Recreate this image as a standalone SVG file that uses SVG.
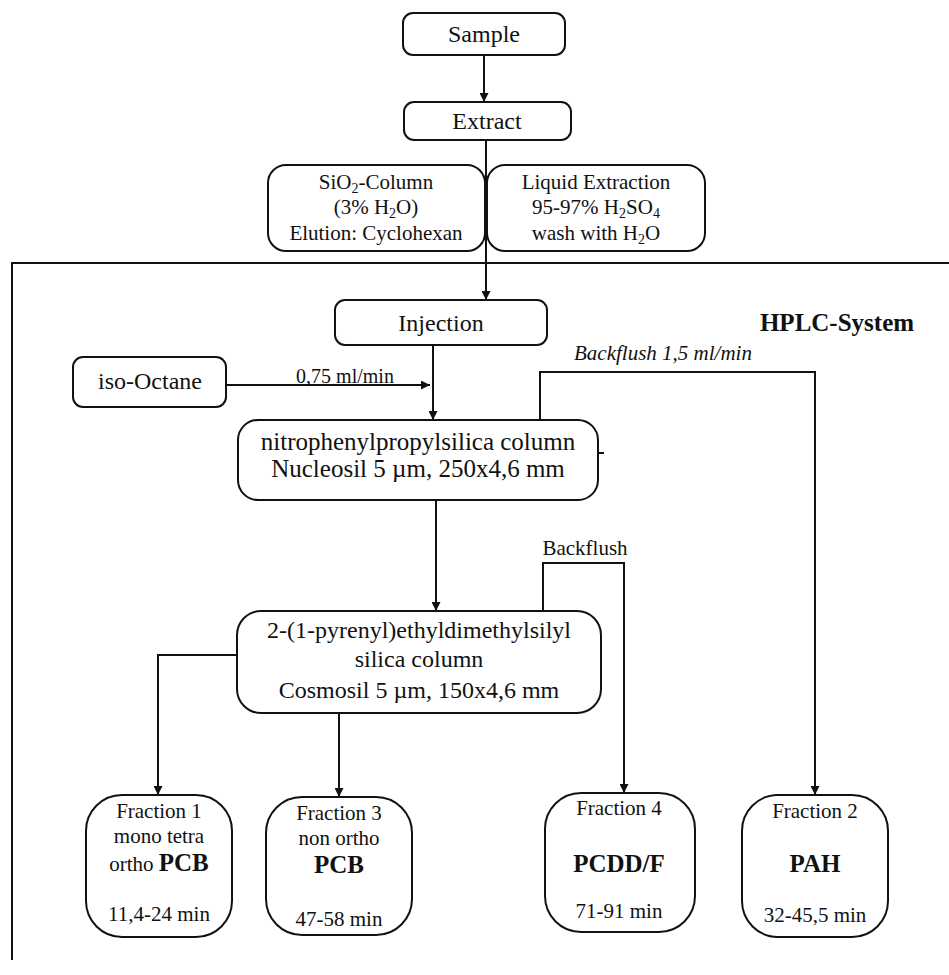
<svg xmlns="http://www.w3.org/2000/svg" width="949" height="975" viewBox="0 0 949 975">
<defs>
<marker id="ah" viewBox="0 0 10 10" refX="10" refY="5" markerWidth="9" markerHeight="9" markerUnits="userSpaceOnUse" orient="auto">
<path d="M0,0 L10,5 L0,10 z" fill="#111"/>
</marker>
<style>
text{font-family:"Liberation Serif","Times New Roman",serif;fill:#111;text-anchor:middle}
.box{fill:#fff;stroke:#111;stroke-width:2}
.ln{fill:none;stroke:#111;stroke-width:2}
.t24{font-size:24px}
.t25{font-size:25px}
.t21{font-size:21px}
.t20{font-size:20px}
.b25{font-size:25px;font-weight:bold}
.sub{font-size:14px}
</style>
</defs>
<rect width="949" height="975" fill="#fff"/>
<path class="ln" d="M949,263 H12 V960"/>
<g id="hplc-label"><text class="b25" x="837" y="331">HPLC-System</text></g>
<g id="connectors">
<path class="ln" d="M484,55 V102" marker-end="url(#ah)"/>
<path class="ln" d="M486,140 V300" marker-end="url(#ah)"/>
<path class="ln" d="M433,345 V420" marker-end="url(#ah)"/>
<path class="ln" d="M226,385 H430" marker-end="url(#ah)"/>
<path class="ln" d="M540,420 V372 H815 V795" marker-end="url(#ah)"/>
<path class="ln" d="M436,500 V611" marker-end="url(#ah)"/>
<path class="ln" d="M543,611 V563 H624 V793" marker-end="url(#ah)"/>
<path class="ln" d="M237,655 H158 V795" marker-end="url(#ah)"/>
<path class="ln" d="M339,713 V797" marker-end="url(#ah)"/>
<path class="ln" d="M598,453 H604"/>
<text class="t20" x="345" y="383">0,75 ml/min</text>
<text class="t21" x="663" y="360" font-style="italic">Backflush 1,5 ml/min</text>
<text class="t21" x="585" y="555">Backflush</text>
</g>
<g id="sample"><rect class="box" x="403" y="13" width="162" height="42" rx="10"/><text class="t24" x="484" y="42">Sample</text></g>
<g id="extract"><rect class="box" x="404" y="102" width="167" height="38" rx="10"/><text class="t24" x="487" y="129">Extract</text></g>
<g id="sio2"><rect class="box" x="268" y="165" width="217" height="86" rx="18"/>
<text class="t21" x="376" y="189">SiO<tspan class="sub" dy="4">2</tspan><tspan dy="-4">-Column</tspan></text>
<text class="t21" x="376" y="214">(3% H<tspan class="sub" dy="4">2</tspan><tspan dy="-4">O)</tspan></text>
<text class="t21" x="376" y="240">Elution: Cyclohexan</text></g>
<g id="liquid"><rect class="box" x="487" y="165" width="218" height="86" rx="18"/>
<text class="t21" x="596" y="189">Liquid Extraction</text>
<text class="t21" x="596" y="214">95-97% H<tspan class="sub" dy="4">2</tspan><tspan dy="-4">SO</tspan><tspan class="sub" dy="4">4</tspan></text>
<text class="t21" x="596" y="240">wash with H<tspan class="sub" dy="4">2</tspan><tspan dy="-4">O</tspan></text></g>
<g id="injection"><rect class="box" x="335" y="300" width="212" height="45" rx="10"/><text class="t24" x="441" y="331">Injection</text></g>
<g id="isooctane"><rect class="box" x="73" y="357" width="153" height="50" rx="10"/><text class="t24" x="150" y="389">iso-Octane</text></g>
<g id="nitro"><rect class="box" x="238" y="420" width="360" height="80" rx="20"/>
<text class="t25" x="418" y="450">nitrophenylpropylsilica column</text>
<text class="t25" x="418" y="477">Nucleosil 5 µm, 250x4,6 mm</text></g>
<g id="pyrenyl"><rect class="box" x="237" y="611" width="364" height="102" rx="24"/>
<text class="t24" x="419" y="638">2-(1-pyrenyl)ethyldimethylsilyl</text>
<text class="t24" x="419" y="667">silica column</text>
<text class="t24" x="419" y="698">Cosmosil 5 µm, 150x4,6 mm</text></g>
<g id="fraction1"><rect class="box" x="86" y="795" width="146" height="142" rx="36"/>
<text class="t21" x="159" y="818">Fraction 1</text>
<text class="t21" x="159" y="843">mono tetra</text>
<text class="t21" x="159" y="871">ortho <tspan class="b25">PCB</tspan></text>
<text class="t21" x="159" y="921">11,4-24 min</text></g>
<g id="fraction3"><rect class="box" x="266" y="797" width="146" height="138" rx="36"/>
<text class="t21" x="339" y="820">Fraction 3</text>
<text class="t21" x="339" y="845">non ortho</text>
<text class="b25" x="339" y="873">PCB</text>
<text class="t21" x="339" y="926">47-58 min</text></g>
<g id="fraction4"><rect class="box" x="545" y="793" width="150" height="139" rx="36"/>
<text class="t21" x="619" y="815">Fraction 4</text>
<text class="b25" x="619" y="872">PCDD/F</text>
<text class="t21" x="619" y="918">71-91 min</text></g>
<g id="fraction2"><rect class="box" x="742" y="795" width="146" height="142" rx="36"/>
<text class="t21" x="815" y="818">Fraction 2</text>
<text class="b25" x="815" y="872">PAH</text>
<text class="t21" x="815" y="922">32-45,5 min</text></g>
</svg>
